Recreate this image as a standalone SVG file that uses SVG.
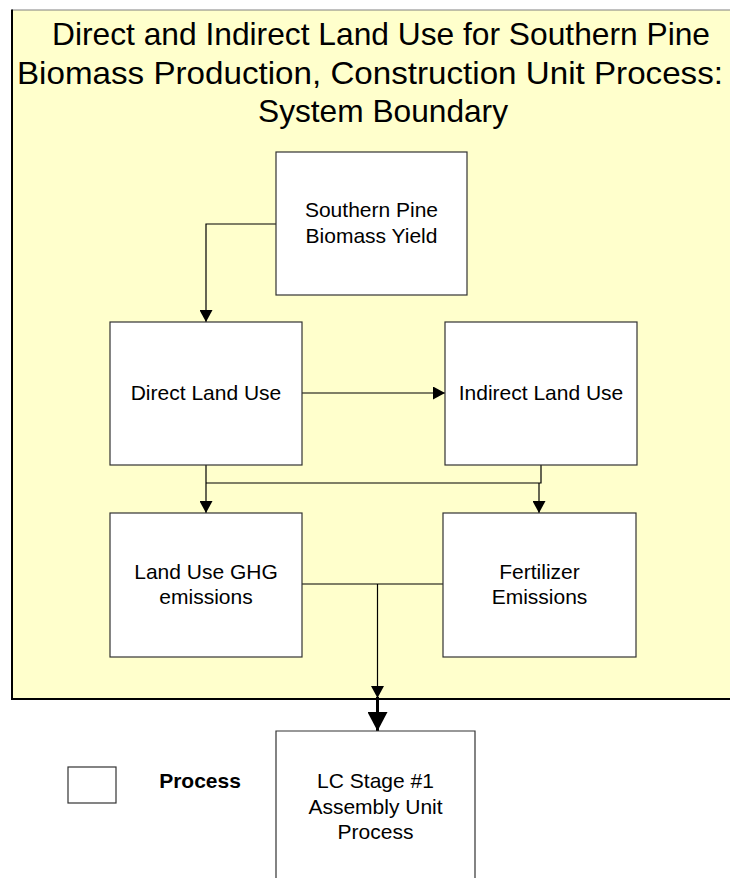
<svg xmlns="http://www.w3.org/2000/svg" width="730" height="878" viewBox="0 0 730 878">
<style>
.box{fill:#ffffff;stroke:#333333;stroke-width:1.2}
.t{font-family:"Liberation Sans",Arial,sans-serif;font-size:21px;fill:#000;text-anchor:middle}
.title{font-family:"Liberation Sans",Arial,sans-serif;font-size:32px;fill:#000;text-anchor:middle}
.ln{fill:none;stroke:#000;stroke-width:1.2}
</style>
<defs>
<marker id="ah" viewBox="0 0 12 13" refX="12" refY="6.5" markerWidth="12" markerHeight="13" orient="auto" markerUnits="userSpaceOnUse"><path d="M0,0 L12,6.5 L0,13 z" fill="#000"/></marker>
<marker id="ahb" viewBox="0 0 19 20" refX="19" refY="10" markerWidth="19" markerHeight="20" orient="auto" markerUnits="userSpaceOnUse"><path d="M0,0 L19,10 L0,20 z" fill="#000"/></marker>
</defs>
<g id="boundary">
<rect x="12" y="10" width="718" height="689" fill="#ffffcc"/>
<line x1="12" y1="10" x2="730" y2="10" stroke="#808080" stroke-width="1"/>
<line x1="12" y1="9.5" x2="12" y2="699" stroke="#000" stroke-width="2"/>
<line x1="11" y1="699" x2="730" y2="699" stroke="#000" stroke-width="2"/>
</g>
<g id="title">
<text class="title" x="381" y="45" textLength="658" lengthAdjust="spacingAndGlyphs">Direct and Indirect Land Use for Southern Pine</text>
<text class="title" x="370" y="84" textLength="706" lengthAdjust="spacingAndGlyphs">Biomass Production, Construction Unit Process:</text>
<text class="title" x="383" y="122" textLength="250" lengthAdjust="spacingAndGlyphs">System Boundary</text>
</g>
<g id="connectors">
<path class="ln" d="M276,224 H206 V322" marker-end="url(#ah)"/>
<path class="ln" d="M302,393 H445" marker-end="url(#ah)"/>
<path class="ln" d="M206,465 V513" marker-end="url(#ah)"/>
<path class="ln" d="M541,465 V483 H206"/>
<path class="ln" d="M539,483 V513" marker-end="url(#ah)"/>
<path class="ln" d="M302,584 H443"/>
<path class="ln" d="M377.5,584 V698" marker-end="url(#ah)"/>
<path fill="none" stroke="#000" stroke-width="3" d="M377.5,697 V731" marker-end="url(#ahb)"/>
</g>
<g id="southern-pine">
<rect class="box" x="276" y="152" width="191" height="143"/>
<text class="t" x="371.5" y="217">Southern Pine</text>
<text class="t" x="371.5" y="243">Biomass Yield</text>
</g>
<g id="direct-land-use">
<rect class="box" x="110" y="322" width="192" height="143"/>
<text class="t" x="206" y="400">Direct Land Use</text>
</g>
<g id="indirect-land-use">
<rect class="box" x="445" y="322" width="192" height="143"/>
<text class="t" x="541" y="400">Indirect Land Use</text>
</g>
<g id="land-use-ghg">
<rect class="box" x="110" y="513" width="192" height="144"/>
<text class="t" x="206" y="579">Land Use GHG</text>
<text class="t" x="206" y="604">emissions</text>
</g>
<g id="fertilizer">
<rect class="box" x="443" y="513" width="193" height="144"/>
<text class="t" x="539.5" y="579">Fertilizer</text>
<text class="t" x="539.5" y="604">Emissions</text>
</g>
<g id="lc-stage">
<path class="box" d="M276,880 V731 H475 V880"/>
<text class="t" x="375.5" y="788">LC Stage #1</text>
<text class="t" x="375.5" y="814">Assembly Unit</text>
<text class="t" x="375.5" y="839">Process</text>
</g>
<g id="legend">
<rect class="box" x="68" y="767" width="48" height="36"/>
<text x="200" y="788" style="font-family:'Liberation Sans',Arial,sans-serif;font-size:21px;font-weight:bold;text-anchor:middle">Process</text>
</g>
</svg>
